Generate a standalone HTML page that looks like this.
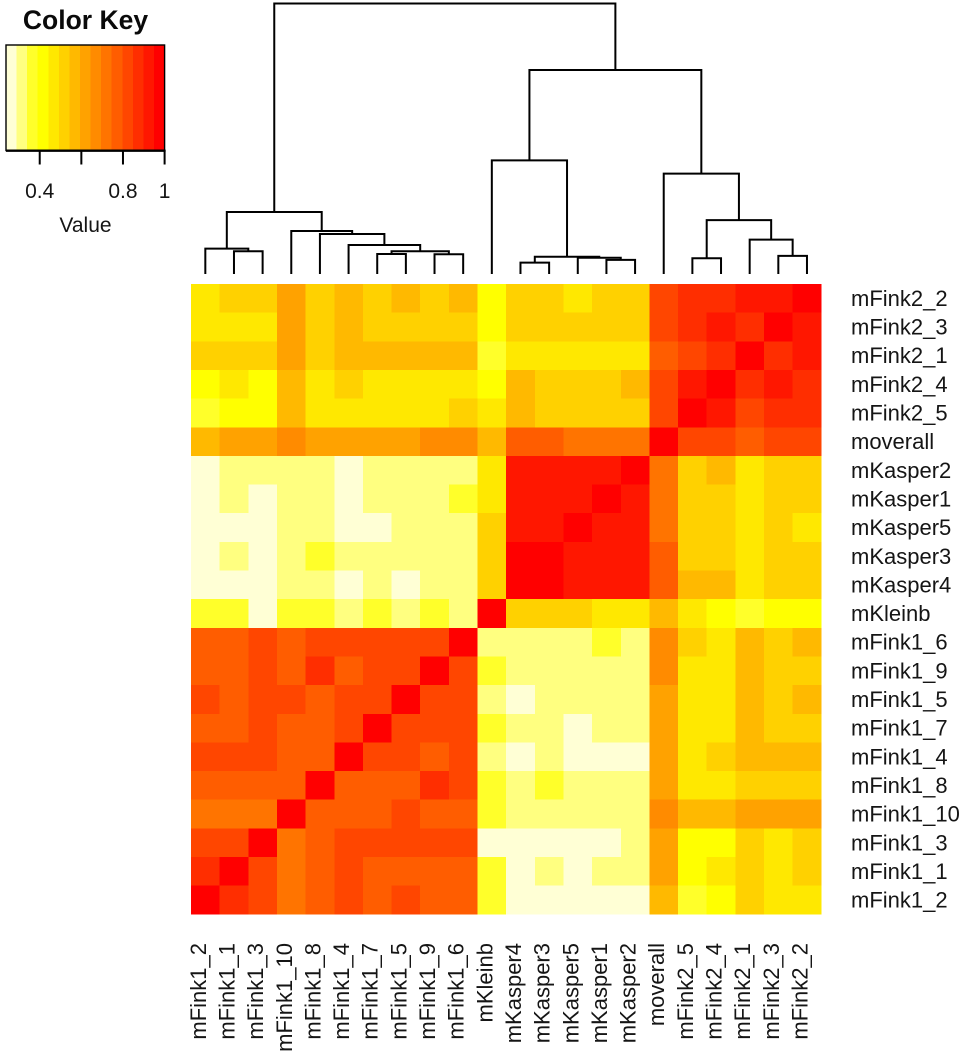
<!DOCTYPE html>
<html lang="en">
<head>
<meta charset="utf-8">
<title>Heatmap with dendrogram</title>
<style>
html,body{margin:0;padding:0;background:#fff;}
svg{display:block;}
text{font-family:"Liberation Sans",Arial,sans-serif;fill:#151515;}
</style>
</head>
<body>
<svg id="chart" xmlns="http://www.w3.org/2000/svg" width="969" height="1056" viewBox="0 0 969 1056">
  <rect x="0" y="0" width="969" height="1056" fill="#ffffff"/>
  <g id="heatmap"></g>
  <g id="dendrogram"></g>
  <g id="rowlabels"></g>
  <g id="collabels"></g>
  <g id="key"></g>
</svg>
<script>
const rowLabels = ["mFink2_2","mFink2_3","mFink2_1","mFink2_4","mFink2_5","moverall","mKasper2","mKasper1","mKasper5","mKasper3","mKasper4","mKleinb","mFink1_6","mFink1_9","mFink1_5","mFink1_7","mFink1_4","mFink1_8","mFink1_10","mFink1_3","mFink1_1","mFink1_2"];
const colLabels = ["mFink1_2","mFink1_1","mFink1_3","mFink1_10","mFink1_8","mFink1_4","mFink1_7","mFink1_5","mFink1_9","mFink1_6","mKleinb","mKasper4","mKasper3","mKasper5","mKasper1","mKasper2","moverall","mFink2_5","mFink2_4","mFink2_1","mFink2_3","mFink2_2"];
const cellValues = [
[.47,.52,.52,.62,.52,.57,.52,.57,.52,.57,.42,.52,.52,.47,.52,.52,.82,.87,.87,.92,.92,1],
[.47,.47,.47,.62,.52,.57,.52,.52,.52,.52,.42,.52,.52,.52,.52,.52,.82,.87,.92,.87,1,.92],
[.52,.52,.52,.62,.52,.57,.57,.57,.57,.57,.36,.47,.47,.47,.47,.47,.77,.82,.87,1,.87,.92],
[.42,.47,.42,.57,.47,.52,.47,.47,.47,.47,.42,.57,.52,.52,.52,.57,.82,.92,1,.87,.92,.87],
[.36,.42,.42,.57,.47,.47,.47,.47,.47,.52,.47,.57,.52,.52,.52,.52,.82,1,.92,.82,.87,.87],
[.57,.62,.62,.67,.62,.62,.62,.62,.67,.67,.57,.77,.77,.72,.72,.72,1,.82,.82,.77,.82,.82],
[.26,.31,.31,.31,.31,.26,.31,.31,.31,.31,.47,.92,.92,.92,.92,1,.72,.52,.57,.47,.52,.52],
[.26,.31,.26,.31,.31,.26,.31,.31,.31,.36,.47,.92,.92,.92,1,.92,.72,.52,.52,.47,.52,.52],
[.26,.26,.26,.31,.31,.26,.26,.31,.31,.31,.52,.92,.92,1,.92,.92,.72,.52,.52,.47,.52,.47],
[.26,.31,.26,.31,.36,.31,.31,.31,.31,.31,.52,1,1,.92,.92,.92,.77,.52,.52,.47,.52,.52],
[.26,.26,.26,.31,.31,.26,.31,.26,.31,.31,.52,1,1,.92,.92,.92,.77,.57,.57,.47,.52,.52],
[.36,.36,.26,.36,.36,.31,.36,.31,.36,.31,1,.52,.52,.52,.47,.47,.57,.47,.42,.36,.42,.42],
[.77,.77,.82,.77,.82,.82,.82,.82,.82,1,.31,.31,.31,.31,.36,.31,.67,.52,.47,.57,.52,.57],
[.77,.77,.82,.77,.87,.77,.82,.82,1,.82,.36,.31,.31,.31,.31,.31,.67,.47,.47,.57,.52,.52],
[.82,.77,.82,.82,.77,.82,.82,1,.82,.82,.31,.26,.31,.31,.31,.31,.62,.47,.47,.57,.52,.57],
[.77,.77,.82,.77,.77,.82,1,.82,.82,.82,.36,.31,.31,.26,.31,.31,.62,.47,.47,.57,.52,.52],
[.82,.82,.82,.77,.77,1,.82,.82,.77,.82,.31,.26,.31,.26,.26,.26,.62,.47,.52,.57,.57,.57],
[.77,.77,.77,.77,1,.77,.77,.77,.87,.82,.36,.31,.36,.31,.31,.31,.62,.47,.47,.52,.52,.52],
[.72,.72,.72,1,.77,.77,.77,.82,.77,.77,.36,.31,.31,.31,.31,.31,.67,.57,.57,.62,.62,.62],
[.82,.82,1,.72,.77,.82,.82,.82,.82,.82,.26,.26,.26,.26,.26,.31,.62,.42,.42,.52,.47,.52],
[.87,1,.82,.72,.77,.82,.77,.77,.77,.77,.36,.26,.31,.26,.31,.31,.62,.42,.47,.52,.47,.52],
[1,.87,.82,.72,.77,.82,.77,.82,.77,.77,.36,.26,.26,.26,.26,.26,.57,.36,.42,.52,.47,.47]
];
const palette = ["#FFFFD5","#FFFF80","#FFFF2A","#FFFF00","#FFE800","#FFD100","#FFB900","#FFA200","#FF8B00","#FF7400","#FF5D00","#FF4600","#FF2E00","#FF1700","#FF0000"];
const keyDomain = [0.238, 1];
const keyTicks = [0.4, 0.6, 0.8, 1];
const keyTickLabels = ["0.4", "", "0.8", "1"];
/* Dendrogram merges: negative = leaf column (1-based), positive = earlier merge (1-based) */
const mergeLeft  = [-12,-15,-18,-14,1,-21,-9,-7,8,-2,-1,-6,-20,-5,-4,3,11,-11,-17,18,17];
const mergeRight = [-13,-16,-19,2,4,-22,-10,-8,7,-3,10,9,6,12,14,13,15,5,16,19,20];
const mergeHeights = [0.042,0.052,0.058,0.060,0.064,0.067,0.073,0.074,0.084,0.084,0.094,0.107,0.127,0.148,0.159,0.199,0.229,0.42,0.371,0.754,1];

const NS = "http://www.w3.org/2000/svg";
const gridLeft = 191, gridTop = 284, gridSize = 630.3;
const cellW = gridSize / colLabels.length, cellH = gridSize / rowLabels.length;
function xCol(i) { return gridLeft + i * cellW; }
function yRow(i) { return gridTop + i * cellH; }
function yDendro(h) { return 274 - h * 270.5; }
function xKey(v) { return 6 + (v - keyDomain[0]) / (keyDomain[1] - keyDomain[0]) * 158.6; }
function colorOf(v) {
  const t = (v - keyDomain[0]) / (keyDomain[1] - keyDomain[0]);
  const b = Math.max(0, Math.min(palette.length - 1, Math.floor(t * palette.length)));
  return palette[b];
}
function make(tag, parent, attrs) {
  const el = document.createElementNS(NS, tag);
  for (const k in attrs) el.setAttribute(k, attrs[k]);
  parent.appendChild(el);
  return el;
}

/* Heatmap */
const heatG = document.getElementById("heatmap");
cellValues.forEach(function (row, r) {
  row.forEach(function (v, c) {
    const cell = make("rect", heatG, {x: xCol(c), y: yRow(r), width: cellW, height: cellH, fill: colorOf(v), "shape-rendering": "crispEdges"});
    
    
  });
});

/* Row labels */
const rowG = document.getElementById("rowlabels");
rowLabels.forEach(function (label, r) {
  const t = make("text", rowG, {x: 851, y: yRow(r) + cellH / 2 + 7.6, "font-size": 22});
  t.textContent = label;
  
  
});

/* Column labels */
const colG = document.getElementById("collabels");
colLabels.forEach(function (label, c) {
  const cx = xCol(c) + cellW / 2 + 0.5;
  const t = make("text", colG, {transform: "translate(" + cx + ",943) rotate(-90)", "text-anchor": "end", "font-size": 22});
  t.textContent = label;
  
  
});

/* Dendrogram */
const dendG = document.getElementById("dendrogram");
const nodeCenter = [];
const nodeHeight = [];
function childPos(id) {
  if (id < 0) return {x: xCol(-id - 1) + cellW / 2, h: 0};
  return {x: nodeCenter[id - 1], h: nodeHeight[id - 1]};
}
mergeHeights.forEach(function (h, i) {
  const a = childPos(mergeLeft[i]);
  const b = childPos(mergeRight[i]);
  const y = yDendro(h);
  const d = "M" + a.x + " " + yDendro(a.h) + "V" + y + "H" + b.x + "V" + yDendro(b.h);
  const p = make("path", dendG, {d: d, fill: "none", stroke: "#000", "stroke-width": 2});
  
  
  nodeCenter[i] = (a.x + b.x) / 2;
  nodeHeight[i] = h;
});

/* Color key */
const keyG = document.getElementById("key");
const keyTitle = make("text", keyG, {x: 85.5, y: 29, "text-anchor": "middle", "font-size": 26.5, "font-weight": "bold", style: "fill:#0a0a0a"});
keyTitle.textContent = "Color Key";


palette.forEach(function (color, i) {
  const v0 = keyDomain[0] + (keyDomain[1] - keyDomain[0]) * i / palette.length;
  const v1 = keyDomain[0] + (keyDomain[1] - keyDomain[0]) * (i + 1) / palette.length;
  const s = make("rect", keyG, {x: xKey(v0), y: 45, width: xKey(v1) - xKey(v0), height: 105, fill: color, "shape-rendering": "crispEdges"});
  
  
});
const keyBox = make("rect", keyG, {x: xKey(keyDomain[0]), y: 45, width: xKey(keyDomain[1]) - xKey(keyDomain[0]), height: 105.5, fill: "none", stroke: "#000", "stroke-width": 1.4});


const keyAxis = make("line", keyG, {x1: xKey(keyDomain[0]), x2: xKey(keyDomain[1]) + 1, y1: 150.7, y2: 150.7, stroke: "#000", "stroke-width": 2.4});


keyTicks.forEach(function (v, i) {
  const tick = make("line", keyG, {x1: xKey(v), x2: xKey(v), y1: 150, y2: 164.5, stroke: "#000", "stroke-width": 2});
  
  
  if (keyTickLabels[i]) {
    const t = make("text", keyG, {x: xKey(v), y: 198, "text-anchor": "middle", "font-size": 21});
    t.textContent = keyTickLabels[i];
    
    
  }
});
const keyValue = make("text", keyG, {x: 85.5, y: 232, "text-anchor": "middle", "font-size": 21});
keyValue.textContent = "Value";


</script>
</body>
</html>
